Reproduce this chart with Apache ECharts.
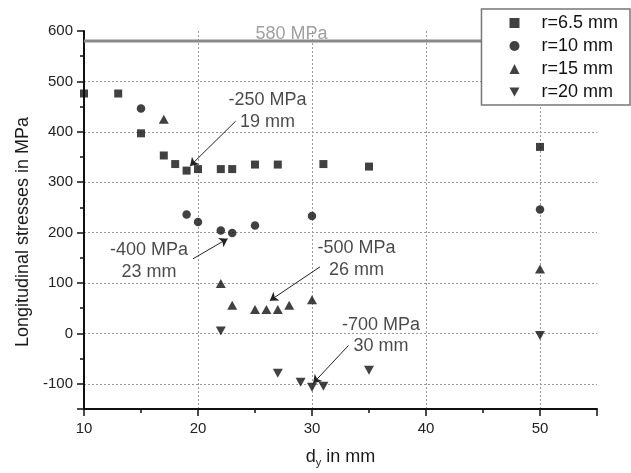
<!DOCTYPE html>
<html><head><meta charset="utf-8">
<script src="https://cdn.jsdelivr.net/npm/echarts@6/dist/echarts.min.js"></script>
<style>html,body{margin:0;padding:0;background:#fff}#c{width:631px;height:473px}</style>
</head><body><div id="c"></div>
<script>
const seriesNames = ['r=6.5 mm', 'r=10 mm', 'r=15 mm', 'r=20 mm'];
const r65 = [[10,476],[13,476],[15,397],[17,353],[18,336],[19,323],[20,326],[22,326],[23,326],[25,335],[27,335],[31,336],[35,331],[50,370]];
const r10 = [[15,446],[19,236],[20,221],[22,204],[23,199],[25,214],[30,233],[50,246]];
const r15 = [[17,425],[22,99],[23,56],[25,47.5],[26,47.5],[27,47.5],[28,56],[30,67],[50,128]];
const r20 = [[22,5],[27,-79],[29,-97],[30,-107],[31,-105],[35,-73],[50,-4]];
const xTickLabels = [10, 20, 30, 40, 50];
const yTickLabels = [-100, 0, 100, 200, 300, 400, 500, 600];
const limitValue = 580;
const limitText = '580 MPa';
const limitTextAt = [28.2, 594];
const annTexts = ['-250 MPa\n19 mm', '-400 MPa\n23 mm', '-500 MPa\n26 mm', '-700 MPa\n30 mm'];
const annTextAt = [[26.1, 441], [15.7, 144], [33.9, 148], [36.05, -4]];
const annArrowFrom = [[23.3, 421], [19.56, 148], [30.7, 132], [33.2, -24]];
const annArrowTo = [[19.3, 332], [22.6, 188], [26.3, 65], [30.1, -99]];

const FONT = '"Liberation Sans", Arial, sans-serif';
const chart = echarts.init(document.getElementById('c'));
const markerColor = '#111';
const downTri = 'path://M0,0L10,0L5,9Z';

const option = {
  animation: false,
  textStyle: { fontFamily: FONT },
  grid: { left: 84, right: 34, top: 31, bottom: 63, containLabel: false },
  legend: {
    data: seriesNames, orient: 'vertical', right: 1, top: 9,
    backgroundColor: '#fff', borderColor: '#777', borderWidth: 1.5, borderRadius: 0,
    padding: [5, 12, 4, 28], itemGap: 5, itemWidth: 10, itemHeight: 10,
    selectedMode: false,
    textStyle: { fontSize: 18, color: '#111', lineHeight: 18, padding: [0, 0, 0, 17], fontFamily: FONT }
  },
  xAxis: {
    type: 'value', min: 10, max: 55, splitNumber: 5,
    name: '{a|d}{s|y}{a| in mm}', nameLocation: 'middle', nameGap: 38,
    nameTextStyle: { rich: { a: { fontSize: 18, color: '#1a1a1a', fontFamily: FONT }, s: { fontSize: 11, color: '#1a1a1a', fontFamily: FONT, padding: [10, 0, 0, 0] } } },
    axisLine: { show: true, onZero: false, lineStyle: { color: '#111', width: 2 } },
    axisTick: { show: true, length: 7, lineStyle: { color: '#111', width: 1.5 } },
    minorTick: { show: true, splitNumber: 2, length: 4, lineStyle: { color: '#111', width: 1.5 } },
    axisLabel: { fontSize: 15, color: '#222', margin: 12, fontFamily: FONT, formatter: v => xTickLabels.includes(v) ? String(v) : '' },
    splitLine: { show: true, showMinLine: false, showMaxLine: false, lineStyle: { color: '#9a9a9a', type: [2, 2], width: 1 } }
  },
  yAxis: {
    type: 'value', min: -150, max: 600, splitNumber: 7,
    name: 'Longitudinal stresses in MPa', nameLocation: 'middle', nameGap: 52,
    nameTextStyle: { fontSize: 18, color: '#1a1a1a', fontFamily: FONT, padding: [0, 24, 0, 0] },
    axisLine: { show: true, onZero: false, lineStyle: { color: '#111', width: 2 } },
    axisTick: { show: true, length: 7, lineStyle: { color: '#111', width: 1.5 } },
    minorTick: { show: true, splitNumber: 2, length: 4, lineStyle: { color: '#111', width: 1.5 } },
    axisLabel: { fontSize: 15, color: '#222', margin: 11, fontFamily: FONT, formatter: v => yTickLabels.includes(v) ? String(v) : '' },
    splitLine: { show: true, showMinLine: false, showMaxLine: false, lineStyle: { color: '#9a9a9a', type: [2, 2], width: 1 } }
  },
  series: [
    { type: 'line', name: 'limit', data: [[10, limitValue], [55, limitValue]], showSymbol: false, silent: true,
      lineStyle: { color: '#8a8a8a', width: 3 }, z: 1 },
    { type: 'scatter', name: seriesNames[0], data: r65, symbol: 'rect', symbolSize: 8, itemStyle: { color: markerColor }, z: 3 },
    { type: 'scatter', name: seriesNames[1], data: r10, symbol: 'circle', symbolSize: 8.5, itemStyle: { color: markerColor }, z: 3 },
    { type: 'scatter', name: seriesNames[2], data: r15, symbol: 'triangle', symbolSize: [10, 9], itemStyle: { color: markerColor }, z: 3 },
    { type: 'scatter', name: seriesNames[3], data: r20, symbol: downTri, symbolSize: [10, 9], itemStyle: { color: markerColor }, z: 3 },
    { type: 'lines', coordinateSystem: 'cartesian2d', silent: true, z: 4,
      data: annArrowFrom.map((f, i) => ({ coords: [f, annArrowTo[i]] })),
      symbol: ['none', 'arrow'], symbolSize: 8,
      lineStyle: { color: '#222', width: 1, opacity: 1 } },
    { type: 'scatter', name: 'annotations', silent: true, symbolSize: 1, itemStyle: { color: 'rgba(0,0,0,0)' }, z: 5,
      data: annTexts.map((t, i) => ({ value: annTextAt[i], name: t })).concat([{ value: limitTextAt, name: limitText, label: { color: '#888' } }]),
      label: { show: true, position: 'inside', formatter: p => p.name, fontSize: 18, lineHeight: 21.5, align: 'center', color: '#1a1a1a', fontFamily: FONT } }
  ]
};
chart.setOption(option);
</script></body></html>
